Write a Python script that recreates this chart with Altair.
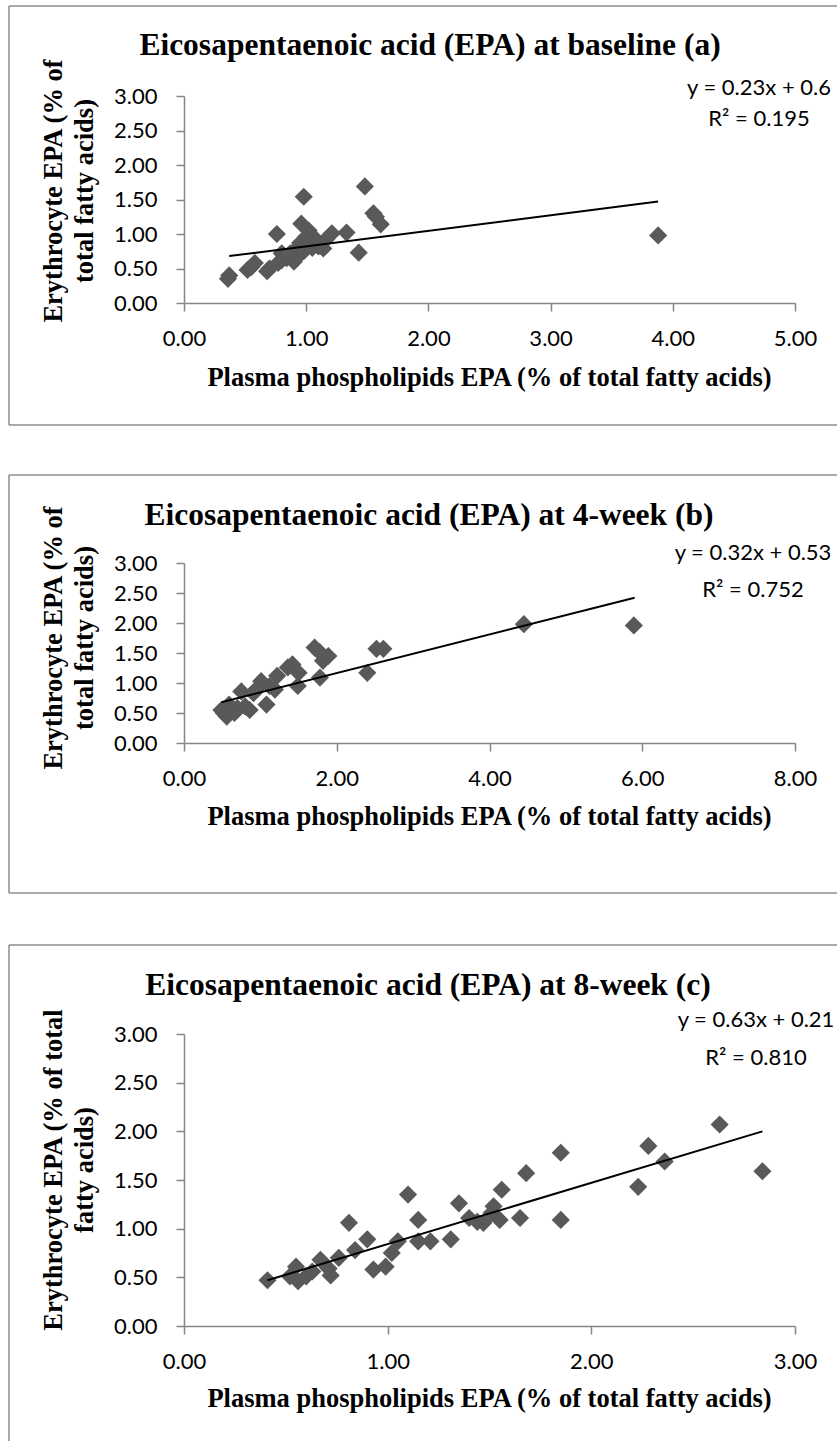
import altair as alt
import pandas as pd

# ---------------- data ----------------
titles = [
    "Eicosapentaenoic acid (EPA) at baseline (a)",
    "Eicosapentaenoic acid (EPA) at 4-week (b)",
    "Eicosapentaenoic acid (EPA) at 8-week (c)",
]
x_title = "Plasma phospholipids EPA (% of total fatty acids)"
y_title_lines = [
    ["Erythrocyte EPA (% of", "total fatty acids)"],
    ["Erythrocyte EPA (% of", "total fatty acids)"],
    ["Erythrocyte EPA (% of total", "fatty acids)"],
]
equations = ["y = 0.23x + 0.6", "y = 0.32x + 0.53", "y = 0.63x + 0.21"]
r_squared = ["R² = 0.195", "R² = 0.752", "R² = 0.810"]

x_domains = [[0, 5], [0, 8], [0, 3]]
x_ticks = [[0, 1, 2, 3, 4, 5], [0, 2, 4, 6, 8], [0, 1, 2, 3]]
y_domain = [0, 3]
y_ticks = [0, 0.5, 1.0, 1.5, 2.0, 2.5, 3.0]

a_x = [0.36, 0.37, 0.52, 0.55, 0.58, 0.68, 0.70, 0.76, 0.77, 0.80, 0.80, 0.84,
       0.87, 0.90, 0.92, 0.93, 0.95, 0.96, 0.98, 0.98, 1.00, 1.02, 1.03, 1.05,
       1.08, 1.10, 1.14, 1.16, 1.21, 1.33, 1.43, 1.48, 1.55, 1.57, 1.61, 3.88]
a_y = [0.35, 0.40, 0.48, 0.52, 0.58, 0.46, 0.50, 1.00, 0.58, 0.62, 0.72, 0.65,
       0.72, 0.60, 0.66, 0.80, 0.87, 1.15, 1.54, 0.75, 0.96, 1.05, 0.87, 0.80,
       0.92, 0.82, 0.79, 0.92, 1.01, 1.02, 0.73, 1.69, 1.30, 1.25, 1.14, 0.98]

b_x = [0.49, 0.52, 0.56, 0.59, 0.62, 0.66, 0.70, 0.75, 0.80, 0.86, 0.91, 0.95,
       1.01, 1.08, 1.12, 1.19, 1.22, 1.36, 1.42, 1.49, 1.50, 1.71, 1.78, 1.78,
       1.82, 1.89, 2.40, 2.52, 2.61, 4.45, 5.89]
b_y = [0.55, 0.50, 0.44, 0.64, 0.55, 0.50, 0.58, 0.86, 0.61, 0.55, 0.83, 0.90,
       1.03, 0.64, 0.95, 0.89, 1.12, 1.26, 1.31, 0.95, 1.17, 1.59, 1.51, 1.09,
       1.37, 1.45, 1.17, 1.57, 1.57, 1.98, 1.96]

c_x = [0.41, 0.52, 0.55, 0.56, 0.60, 0.63, 0.67, 0.71, 0.72, 0.76, 0.81, 0.84,
       0.90, 0.93, 0.99, 1.02, 1.05, 1.10, 1.15, 1.15, 1.21, 1.31, 1.35, 1.40,
       1.44, 1.47, 1.51, 1.52, 1.55, 1.56, 1.65, 1.68, 1.85, 1.85, 2.23, 2.28,
       2.36, 2.63, 2.84]
c_y = [0.47, 0.51, 0.61, 0.46, 0.51, 0.56, 0.68, 0.59, 0.52, 0.70, 1.06, 0.78,
       0.89, 0.58, 0.61, 0.75, 0.87, 1.35, 1.09, 0.87, 0.87, 0.89, 1.26, 1.11,
       1.07, 1.06, 1.16, 1.23, 1.09, 1.40, 1.11, 1.57, 1.09, 1.78, 1.43, 1.85,
       1.69, 2.07, 1.59]

# trendline end points as drawn
ta_x, ta_y = [0.37, 3.88], [0.68, 1.47]
tb_x, tb_y = [0.49, 5.90], [0.68, 2.42]
tc_x, tc_y = [0.41, 2.84], [0.47, 2.00]

series = [(a_x, a_y, ta_x, ta_y), (b_x, b_y, tb_x, tb_y), (c_x, c_y, tc_x, tc_y)]

# ---------------- styling / layout (pixels of the 837x1441 canvas) ----------------
SERIF = "Liberation Serif"
SANS = "Lato"
GRAY = "#868686"
BORDER = "#8c8c8c"
MARKER = "#595959"
CW, CH = 837, 1441
PX0, PX1 = 184, 795          # plot left / right (same for all panels)

layout = [
    dict(ybot=303, ytop=96, title=(430, 55), xt=(489.5, 386), yt=(62, 93, 191),
         eq=(759, 95, 126), box=(6, 425)),
    dict(ybot=743, ytop=563, title=(429, 525), xt=(489.5, 825), yt=(62, 93, 638),
         eq=(753, 560, 597), box=(475, 893)),
    dict(ybot=1326, ytop=1034, title=(428, 995), xt=(489.5, 1407), yt=(62, 93, 1170),
         eq=(756, 1027, 1065), box=(945, None)),
]

one = pd.DataFrame({"k": [0]})


def txt(text, x, y, size, font, bold=False, angle=None, align="center"):
    kw = dict(text=text, font=font, fontSize=size, align=align,
              baseline="alphabetic", color="black")
    if bold:
        kw["fontWeight"] = "bold"
    if angle is not None:
        kw["angle"] = angle
    return alt.Chart(one).mark_text(**kw).encode(x=alt.value(x), y=alt.value(y))


def hline(x1, x2, y):
    return alt.Chart(one).mark_rule(color=BORDER, strokeWidth=1.5).encode(
        x=alt.value(x1), x2=alt.value(x2), y=alt.value(y))


def vline(x, y1, y2):
    return alt.Chart(one).mark_rule(color=BORDER, strokeWidth=1.5).encode(
        x=alt.value(x), y=alt.value(y1), y2=alt.value(y2))


def axis(values, pad, orient, offset):
    return alt.Axis(values=values, format=".2f", title=None, grid=False,
                    orient=orient, offset=offset,
                    tickSize=8, tickColor=GRAY, tickWidth=1.5,
                    domainColor=GRAY, domainWidth=1.5,
                    labelFont=SANS, labelFontSize=22, labelColor="black",
                    labelPadding=pad, labelFlush=False, labelOverlap=False)


def panel(i):
    L = layout[i]
    xs_, ys_, txs, tys = series[i]
    xf, yf = f"px{i}", f"ey{i}"
    df = pd.DataFrame({xf: xs_, yf: ys_})
    tdf = pd.DataFrame({xf: txs, yf: tys})
    xs = alt.Scale(domain=x_domains[i], range=[PX0, PX1], nice=False, zero=False)
    ys = alt.Scale(domain=y_domain, range=[L["ybot"], L["ytop"]], nice=False, zero=False)
    xax = axis(x_ticks[i], 17, "bottom", L["ybot"] - CH)
    yax = axis(y_ticks, 19, "left", -PX0)

    pts = alt.Chart(df).mark_point(shape="diamond", filled=True, size=330,
                                   color=MARKER, opacity=1).encode(
        x=alt.X(f"{xf}:Q", scale=xs, axis=xax),
        y=alt.Y(f"{yf}:Q", scale=ys, axis=yax),
    )
    trend = alt.Chart(tdf).mark_line(color="black", strokeWidth=2).encode(
        x=alt.X(f"{xf}:Q", scale=xs, axis=xax),
        y=alt.Y(f"{yf}:Q", scale=ys, axis=yax),
    )
    return alt.layer(pts, trend)


decor = []
for i, L in enumerate(layout):
    top, bot = L["box"]
    decor.append(hline(9, CW, top))
    if bot is not None:
        decor.append(hline(9, CW, bot))
        decor.append(vline(9, top, bot))
    else:
        decor.append(vline(9, top, CH))
    decor += [
        txt(titles[i], L["title"][0], L["title"][1], 31.5, SERIF, bold=True),
        txt(x_title, L["xt"][0], L["xt"][1], 26.5, SERIF, bold=True),
        txt(y_title_lines[i][0], L["yt"][0], L["yt"][2], 26.5, SERIF, bold=True, angle=270),
        txt(y_title_lines[i][1], L["yt"][1], L["yt"][2], 26.5, SERIF, bold=True, angle=270),
        txt(equations[i], L["eq"][0], L["eq"][1], 22, SANS),
        txt(r_squared[i], L["eq"][0], L["eq"][2], 22, SANS),
    ]

chart = alt.layer(
    *decor, panel(0), panel(1), panel(2)
).resolve_scale(
    x="independent", y="independent"
).resolve_axis(
    x="independent", y="independent"
).properties(
    width=CW, height=CH, padding=0,
    autosize=alt.AutoSizeParams(type="none"),
).configure_view(strokeWidth=0)

chart.save("out.html", embed_options={"renderer": "svg", "actions": False})
